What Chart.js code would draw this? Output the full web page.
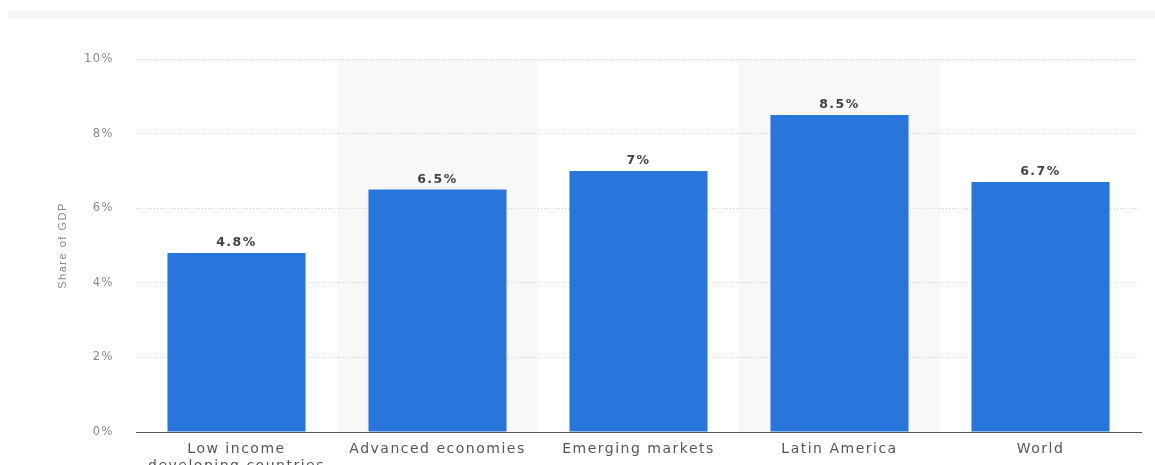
<!DOCTYPE html>
<html>
<head>
<meta charset="utf-8">
<script src="https://cdn.jsdelivr.net/npm/chart.js@4"></script>
<style>
  html, body { margin: 0; padding: 0; background: #fff; }
  #wrap { position: relative; width: 1155px; height: 465px; overflow: hidden; }
  #band { position: absolute; left: 8px; top: 10px; width: 1147px; height: 8px; background: #f5f6f8; }
  canvas { position: absolute; left: 0; top: 0; }
</style>
</head>
<body>
<div id="wrap">
  <div id="band"></div>
  <canvas id="chart" width="1155" height="465"></canvas>
</div>
<script>
// Share of GDP by region
const categories = [['Low income', 'developing countries'], 'Advanced economies', 'Emerging markets', 'Latin America', 'World'];
const values = [4.8, 6.5, 7, 8.5, 6.7];
const yTicks = [0, 2, 4, 6, 8, 10];

const FONT = 'DejaVu Sans, Verdana, sans-serif';

// Light stripes behind every second category
const stripes = {
  id: 'stripes',
  beforeDraw(chart) {
    const { ctx, chartArea, scales } = chart;
    ctx.letterSpacing = '1.5px';
    const step = (chartArea.right - chartArea.left) / categories.length;
    ctx.save();
    ctx.fillStyle = '#f8f8f8';
    categories.forEach((c, i) => {
      if (i % 2 === 1) {
        const cx = scales.x.getPixelForValue(i);
        ctx.fillRect(cx - step / 2, chartArea.top, step, chartArea.bottom - chartArea.top);
      }
    });
    ctx.restore();
  }
};

// Value labels above the bars
const valueLabels = {
  id: 'valueLabels',
  afterDatasetsDraw(chart) {
    const { ctx } = chart;
    const meta = chart.getDatasetMeta(0);
    ctx.save();
    ctx.font = 'bold 12.5px ' + FONT;
    ctx.fillStyle = '#444';
    ctx.textAlign = 'center';
    ctx.textBaseline = 'bottom';
    meta.data.forEach((bar, i) => {
      ctx.fillText(values[i] + '%', bar.x, bar.y - 4);
    });
    ctx.restore();
  }
};

new Chart(document.getElementById('chart'), {
  type: 'bar',
  data: {
    labels: categories,
    datasets: [{
      data: values,
      backgroundColor: '#2876dc',
      borderWidth: 0,
      categoryPercentage: 1,
      barPercentage: 0.687
    }]
  },
  options: {
    responsive: false,
    animation: false,
    layout: { padding: { left: 56, right: 14, top: 59, bottom: 0 } },
    plugins: { legend: { display: false }, tooltip: { enabled: false } },
    scales: {
      x: {
        grid: { display: false, drawTicks: false },
        border: { display: true, color: '#555', width: 1 },
        ticks: {
          color: '#555',
          font: { family: FONT, size: 14 },
          padding: 9,
          maxRotation: 0,
          autoSkip: false
        },
        afterFit(scale) { scale.height = 33; }
      },
      y: {
        min: 0,
        max: 10,
        afterBuildTicks(scale) { scale.ticks = yTicks.map(v => ({ value: v })); },
        grid: {
          drawTicks: false,
          color: ctx => ctx.tick.value === 0 ? 'rgba(0,0,0,0)' : '#cfcfcf',
          lineWidth: 1
        },
        border: { display: false, dash: [1, 2] },
        ticks: {
          color: '#888',
          font: { family: FONT, size: 11.5 },
          padding: 22,
          callback: v => v + '%'
        },
        title: {
          display: true,
          text: 'Share of GDP',
          color: '#888',
          font: { family: 'Liberation Sans Narrow, Arial Narrow, sans-serif', size: 11 },
          padding: { top: 0, bottom: 0 }
        },
        afterFit(scale) { scale.width = 80; }
      }
    }
  },
  plugins: [stripes, valueLabels]
});
</script>
</body>
</html>
